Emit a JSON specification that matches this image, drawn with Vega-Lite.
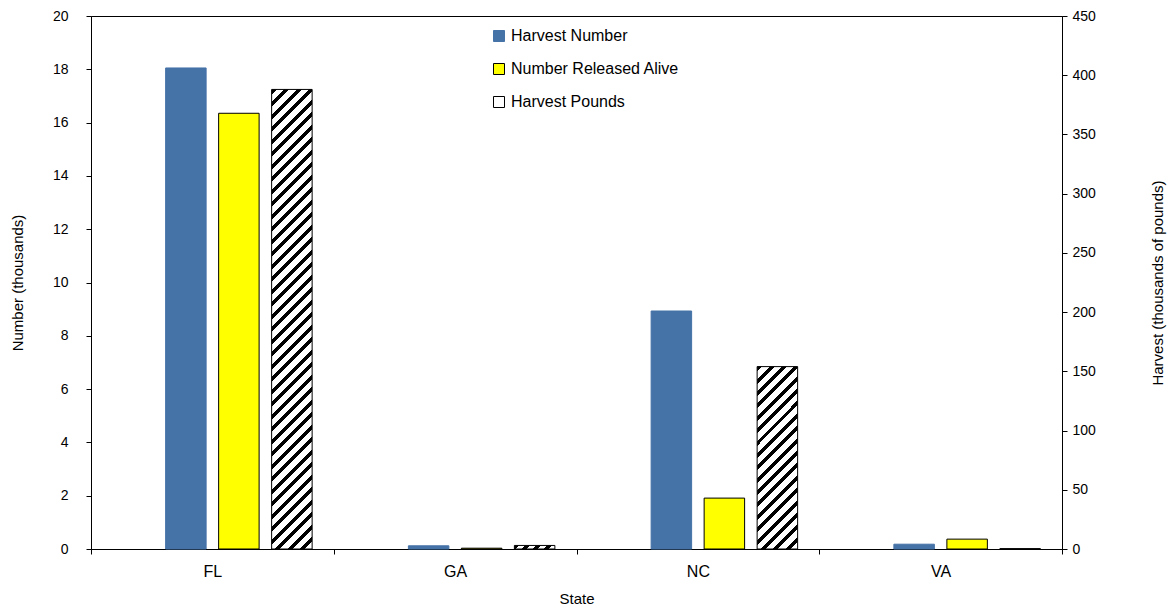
{
  "$schema": "https://vega.github.io/schema/vega-lite/v6.json",
  "width": 971,
  "height": 533,
  "autosize": {"type": "none"},
  "padding": {"left": 91, "top": 16, "right": 106, "bottom": 67},
  "background": "white",
  "config": {
    "font": "Liberation Sans",
    "view": {"stroke": "black", "strokeWidth": 1},
    "axis": {
      "labelFont": "Liberation Sans",
      "titleFont": "Liberation Sans",
      "labelFontSize": 14,
      "titleFontSize": 15,
      "labelColor": "black",
      "titleColor": "black",
      "titleFontWeight": "normal",
      "domainColor": "black",
      "tickColor": "black",
      "grid": false
    }
  },
  "data": {
    "values": [
      {"State": "FL", "Series": "Harvest Number", "Value": 18.05},
      {"State": "FL", "Series": "Number Released Alive", "Value": 16.35},
      {"State": "FL", "Series": "Harvest Pounds", "Value": 388},
      {"State": "GA", "Series": "Harvest Number", "Value": 0.12},
      {"State": "GA", "Series": "Number Released Alive", "Value": 0.03},
      {"State": "GA", "Series": "Harvest Pounds", "Value": 3},
      {"State": "NC", "Series": "Harvest Number", "Value": 8.93},
      {"State": "NC", "Series": "Number Released Alive", "Value": 1.91},
      {"State": "NC", "Series": "Harvest Pounds", "Value": 154},
      {"State": "VA", "Series": "Harvest Number", "Value": 0.18},
      {"State": "VA", "Series": "Number Released Alive", "Value": 0.37},
      {"State": "VA", "Series": "Harvest Pounds", "Value": 0.3}
    ]
  },
  "encoding": {
    "x": {
      "field": "State",
      "type": "nominal",
      "scale": {"paddingInner": 0, "paddingOuter": 0},
      "axis": {"title": "State", "labelAngle": 0, "labelFontSize": 16, "tickBand": "extent", "tickSize": 5, "labelPadding": 9, "titlePadding": 12}
    },
    "xOffset": {
      "field": "Series",
      "type": "nominal",
      "scale": {"domain": ["pad", "Harvest Number", "Number Released Alive", "Harvest Pounds"], "paddingInner": 0.236, "paddingOuter": 0.408}
    }
  },
  "layer": [
    {
      "transform": [{"filter": "datum.Series !== 'Harvest Pounds'"}],
      "mark": {"type": "bar", "strokeWidth": 1},
      "encoding": {
        "y": {
          "field": "Value",
          "type": "quantitative",
          "stack": null,
          "scale": {"domain": [0, 20], "nice": false},
          "axis": {"title": "Number (thousands)", "values": [0, 2, 4, 6, 8, 10, 12, 14, 16, 18, 20], "tickSize": 5, "labelPadding": 18, "titlePadding": 27}
        },
        "fill": {
          "field": "Series",
          "type": "nominal",
          "scale": {
            "domain": ["Harvest Number", "Number Released Alive", "Harvest Pounds"],
            "range": ["#4572A7", "#FFFF00", "#ffffff"]
          },
          "legend": {"title": null, "orient": "none", "legendX": 400, "legendY": 12, "symbolType": "square", "symbolSize": 121, "labelFontSize": 16, "labelLimit": 400, "labelColor": "black", "rowPadding": 17, "labelOffset": 4, "padding": 0, "symbolStrokeWidth": 1}
        },
        "stroke": {
          "field": "Series",
          "type": "nominal",
          "scale": {"domain": ["Harvest Number", "Number Released Alive", "Harvest Pounds"], "range": ["#4572A7", "#000000", "#000000"]},
          "legend": null
        }
      }
    },
    {
      "transform": [{"filter": "datum.Series === 'Harvest Pounds'"}],
      "mark": {"type": "bar", "strokeWidth": 1},
      "encoding": {
        "y": {
          "field": "Value",
          "type": "quantitative",
          "stack": null,
          "scale": {"domain": [0, 450], "nice": false},
          "axis": {"orient": "right", "title": "Harvest (thousands of pounds)", "values": [0, 50, 100, 150, 200, 250, 300, 350, 400, 450], "tickSize": 5, "labelPadding": 5, "titleAngle": 270, "titlePadding": 70}
        },
        "fill": {
          "condition": [
            {"test": "datum.State === 'FL'", "value": {"gradient": "linear", "x1": 0, "y1": 0, "x2": 0.0952, "y2": 1.0797, "stops": [
              {"offset": 0, "color": "#000"}, {"offset": 0.01, "color": "#000"}, {"offset": 0.01, "color": "#fff"}, {"offset": 0.025, "color": "#fff"},
              {"offset": 0.025, "color": "#000"}, {"offset": 0.035, "color": "#000"}, {"offset": 0.035, "color": "#fff"}, {"offset": 0.05, "color": "#fff"},
              {"offset": 0.05, "color": "#000"}, {"offset": 0.06, "color": "#000"}, {"offset": 0.06, "color": "#fff"}, {"offset": 0.075, "color": "#fff"},
              {"offset": 0.075, "color": "#000"}, {"offset": 0.085, "color": "#000"}, {"offset": 0.085, "color": "#fff"}, {"offset": 0.1, "color": "#fff"},
              {"offset": 0.1, "color": "#000"}, {"offset": 0.11, "color": "#000"}, {"offset": 0.11, "color": "#fff"}, {"offset": 0.125, "color": "#fff"},
              {"offset": 0.125, "color": "#000"}, {"offset": 0.135, "color": "#000"}, {"offset": 0.135, "color": "#fff"}, {"offset": 0.15, "color": "#fff"},
              {"offset": 0.15, "color": "#000"}, {"offset": 0.16, "color": "#000"}, {"offset": 0.16, "color": "#fff"}, {"offset": 0.175, "color": "#fff"},
              {"offset": 0.175, "color": "#000"}, {"offset": 0.185, "color": "#000"}, {"offset": 0.185, "color": "#fff"}, {"offset": 0.2, "color": "#fff"},
              {"offset": 0.2, "color": "#000"}, {"offset": 0.21, "color": "#000"}, {"offset": 0.21, "color": "#fff"}, {"offset": 0.225, "color": "#fff"},
              {"offset": 0.225, "color": "#000"}, {"offset": 0.235, "color": "#000"}, {"offset": 0.235, "color": "#fff"}, {"offset": 0.25, "color": "#fff"},
              {"offset": 0.25, "color": "#000"}, {"offset": 0.26, "color": "#000"}, {"offset": 0.26, "color": "#fff"}, {"offset": 0.275, "color": "#fff"},
              {"offset": 0.275, "color": "#000"}, {"offset": 0.285, "color": "#000"}, {"offset": 0.285, "color": "#fff"}, {"offset": 0.3, "color": "#fff"},
              {"offset": 0.3, "color": "#000"}, {"offset": 0.31, "color": "#000"}, {"offset": 0.31, "color": "#fff"}, {"offset": 0.325, "color": "#fff"},
              {"offset": 0.325, "color": "#000"}, {"offset": 0.335, "color": "#000"}, {"offset": 0.335, "color": "#fff"}, {"offset": 0.35, "color": "#fff"},
              {"offset": 0.35, "color": "#000"}, {"offset": 0.36, "color": "#000"}, {"offset": 0.36, "color": "#fff"}, {"offset": 0.375, "color": "#fff"},
              {"offset": 0.375, "color": "#000"}, {"offset": 0.385, "color": "#000"}, {"offset": 0.385, "color": "#fff"}, {"offset": 0.4, "color": "#fff"},
              {"offset": 0.4, "color": "#000"}, {"offset": 0.41, "color": "#000"}, {"offset": 0.41, "color": "#fff"}, {"offset": 0.425, "color": "#fff"},
              {"offset": 0.425, "color": "#000"}, {"offset": 0.435, "color": "#000"}, {"offset": 0.435, "color": "#fff"}, {"offset": 0.45, "color": "#fff"},
              {"offset": 0.45, "color": "#000"}, {"offset": 0.46, "color": "#000"}, {"offset": 0.46, "color": "#fff"}, {"offset": 0.475, "color": "#fff"},
              {"offset": 0.475, "color": "#000"}, {"offset": 0.485, "color": "#000"}, {"offset": 0.485, "color": "#fff"}, {"offset": 0.5, "color": "#fff"},
              {"offset": 0.5, "color": "#000"}, {"offset": 0.51, "color": "#000"}, {"offset": 0.51, "color": "#fff"}, {"offset": 0.525, "color": "#fff"},
              {"offset": 0.525, "color": "#000"}, {"offset": 0.535, "color": "#000"}, {"offset": 0.535, "color": "#fff"}, {"offset": 0.55, "color": "#fff"},
              {"offset": 0.55, "color": "#000"}, {"offset": 0.56, "color": "#000"}, {"offset": 0.56, "color": "#fff"}, {"offset": 0.575, "color": "#fff"},
              {"offset": 0.575, "color": "#000"}, {"offset": 0.585, "color": "#000"}, {"offset": 0.585, "color": "#fff"}, {"offset": 0.6, "color": "#fff"},
              {"offset": 0.6, "color": "#000"}, {"offset": 0.61, "color": "#000"}, {"offset": 0.61, "color": "#fff"}, {"offset": 0.625, "color": "#fff"},
              {"offset": 0.625, "color": "#000"}, {"offset": 0.635, "color": "#000"}, {"offset": 0.635, "color": "#fff"}, {"offset": 0.65, "color": "#fff"},
              {"offset": 0.65, "color": "#000"}, {"offset": 0.66, "color": "#000"}, {"offset": 0.66, "color": "#fff"}, {"offset": 0.675, "color": "#fff"},
              {"offset": 0.675, "color": "#000"}, {"offset": 0.685, "color": "#000"}, {"offset": 0.685, "color": "#fff"}, {"offset": 0.7, "color": "#fff"},
              {"offset": 0.7, "color": "#000"}, {"offset": 0.71, "color": "#000"}, {"offset": 0.71, "color": "#fff"}, {"offset": 0.725, "color": "#fff"},
              {"offset": 0.725, "color": "#000"}, {"offset": 0.735, "color": "#000"}, {"offset": 0.735, "color": "#fff"}, {"offset": 0.75, "color": "#fff"},
              {"offset": 0.75, "color": "#000"}, {"offset": 0.76, "color": "#000"}, {"offset": 0.76, "color": "#fff"}, {"offset": 0.775, "color": "#fff"},
              {"offset": 0.775, "color": "#000"}, {"offset": 0.785, "color": "#000"}, {"offset": 0.785, "color": "#fff"}, {"offset": 0.8, "color": "#fff"},
              {"offset": 0.8, "color": "#000"}, {"offset": 0.81, "color": "#000"}, {"offset": 0.81, "color": "#fff"}, {"offset": 0.825, "color": "#fff"},
              {"offset": 0.825, "color": "#000"}, {"offset": 0.835, "color": "#000"}, {"offset": 0.835, "color": "#fff"}, {"offset": 0.85, "color": "#fff"},
              {"offset": 0.85, "color": "#000"}, {"offset": 0.86, "color": "#000"}, {"offset": 0.86, "color": "#fff"}, {"offset": 0.875, "color": "#fff"},
              {"offset": 0.875, "color": "#000"}, {"offset": 0.885, "color": "#000"}, {"offset": 0.885, "color": "#fff"}, {"offset": 0.9, "color": "#fff"},
              {"offset": 0.9, "color": "#000"}, {"offset": 0.91, "color": "#000"}, {"offset": 0.91, "color": "#fff"}, {"offset": 0.925, "color": "#fff"},
              {"offset": 0.925, "color": "#000"}, {"offset": 0.935, "color": "#000"}, {"offset": 0.935, "color": "#fff"}, {"offset": 0.95, "color": "#fff"},
              {"offset": 0.95, "color": "#000"}, {"offset": 0.96, "color": "#000"}, {"offset": 0.96, "color": "#fff"}, {"offset": 0.975, "color": "#fff"},
              {"offset": 0.975, "color": "#000"}, {"offset": 0.985, "color": "#000"}, {"offset": 0.985, "color": "#fff"}, {"offset": 1, "color": "#fff"}
            ]}},
            {"test": "datum.State === 'NC'", "value": {"gradient": "linear", "x1": 0, "y1": 0, "x2": 0.2588, "y2": 1.1647, "stops": [
              {"offset": 0, "color": "#000"}, {"offset": 0.0222, "color": "#000"}, {"offset": 0.0222, "color": "#fff"}, {"offset": 0.0556, "color": "#fff"},
              {"offset": 0.0556, "color": "#000"}, {"offset": 0.0778, "color": "#000"}, {"offset": 0.0778, "color": "#fff"}, {"offset": 0.1111, "color": "#fff"},
              {"offset": 0.1111, "color": "#000"}, {"offset": 0.1333, "color": "#000"}, {"offset": 0.1333, "color": "#fff"}, {"offset": 0.1667, "color": "#fff"},
              {"offset": 0.1667, "color": "#000"}, {"offset": 0.1889, "color": "#000"}, {"offset": 0.1889, "color": "#fff"}, {"offset": 0.2222, "color": "#fff"},
              {"offset": 0.2222, "color": "#000"}, {"offset": 0.2444, "color": "#000"}, {"offset": 0.2444, "color": "#fff"}, {"offset": 0.2778, "color": "#fff"},
              {"offset": 0.2778, "color": "#000"}, {"offset": 0.3, "color": "#000"}, {"offset": 0.3, "color": "#fff"}, {"offset": 0.3333, "color": "#fff"},
              {"offset": 0.3333, "color": "#000"}, {"offset": 0.3556, "color": "#000"}, {"offset": 0.3556, "color": "#fff"}, {"offset": 0.3889, "color": "#fff"},
              {"offset": 0.3889, "color": "#000"}, {"offset": 0.4111, "color": "#000"}, {"offset": 0.4111, "color": "#fff"}, {"offset": 0.4444, "color": "#fff"},
              {"offset": 0.4444, "color": "#000"}, {"offset": 0.4667, "color": "#000"}, {"offset": 0.4667, "color": "#fff"}, {"offset": 0.5, "color": "#fff"},
              {"offset": 0.5, "color": "#000"}, {"offset": 0.5222, "color": "#000"}, {"offset": 0.5222, "color": "#fff"}, {"offset": 0.5556, "color": "#fff"},
              {"offset": 0.5556, "color": "#000"}, {"offset": 0.5778, "color": "#000"}, {"offset": 0.5778, "color": "#fff"}, {"offset": 0.6111, "color": "#fff"},
              {"offset": 0.6111, "color": "#000"}, {"offset": 0.6333, "color": "#000"}, {"offset": 0.6333, "color": "#fff"}, {"offset": 0.6667, "color": "#fff"},
              {"offset": 0.6667, "color": "#000"}, {"offset": 0.6889, "color": "#000"}, {"offset": 0.6889, "color": "#fff"}, {"offset": 0.7222, "color": "#fff"},
              {"offset": 0.7222, "color": "#000"}, {"offset": 0.7444, "color": "#000"}, {"offset": 0.7444, "color": "#fff"}, {"offset": 0.7778, "color": "#fff"},
              {"offset": 0.7778, "color": "#000"}, {"offset": 0.8, "color": "#000"}, {"offset": 0.8, "color": "#fff"}, {"offset": 0.8333, "color": "#fff"},
              {"offset": 0.8333, "color": "#000"}, {"offset": 0.8556, "color": "#000"}, {"offset": 0.8556, "color": "#fff"}, {"offset": 0.8889, "color": "#fff"},
              {"offset": 0.8889, "color": "#000"}, {"offset": 0.9111, "color": "#000"}, {"offset": 0.9111, "color": "#fff"}, {"offset": 0.9444, "color": "#fff"},
              {"offset": 0.9444, "color": "#000"}, {"offset": 0.9667, "color": "#000"}, {"offset": 0.9667, "color": "#fff"}, {"offset": 1, "color": "#fff"}
            ]}},
            {"test": "datum.State === 'GA'", "value": {"gradient": "linear", "x1": 0, "y1": 0, "x2": 1.0793, "y2": 0.0946, "stops": [
              {"offset": 0, "color": "#000"}, {"offset": 0.1, "color": "#000"}, {"offset": 0.1, "color": "#fff"}, {"offset": 0.25, "color": "#fff"},
              {"offset": 0.25, "color": "#000"}, {"offset": 0.35, "color": "#000"}, {"offset": 0.35, "color": "#fff"}, {"offset": 0.5, "color": "#fff"},
              {"offset": 0.5, "color": "#000"}, {"offset": 0.6, "color": "#000"}, {"offset": 0.6, "color": "#fff"}, {"offset": 0.75, "color": "#fff"},
              {"offset": 0.75, "color": "#000"}, {"offset": 0.85, "color": "#000"}, {"offset": 0.85, "color": "#fff"}, {"offset": 1, "color": "#fff"}
            ]}},
            {"test": "datum.State === 'VA'", "value": "#000000"}
          ],
          "field": "Series",
          "type": "nominal"
        },
        "stroke": {
          "field": "Series",
          "type": "nominal",
          "legend": null
        }
      }
    }
  ],
  "resolve": {"scale": {"y": "independent"}, "axis": {"y": "independent"}}
}
